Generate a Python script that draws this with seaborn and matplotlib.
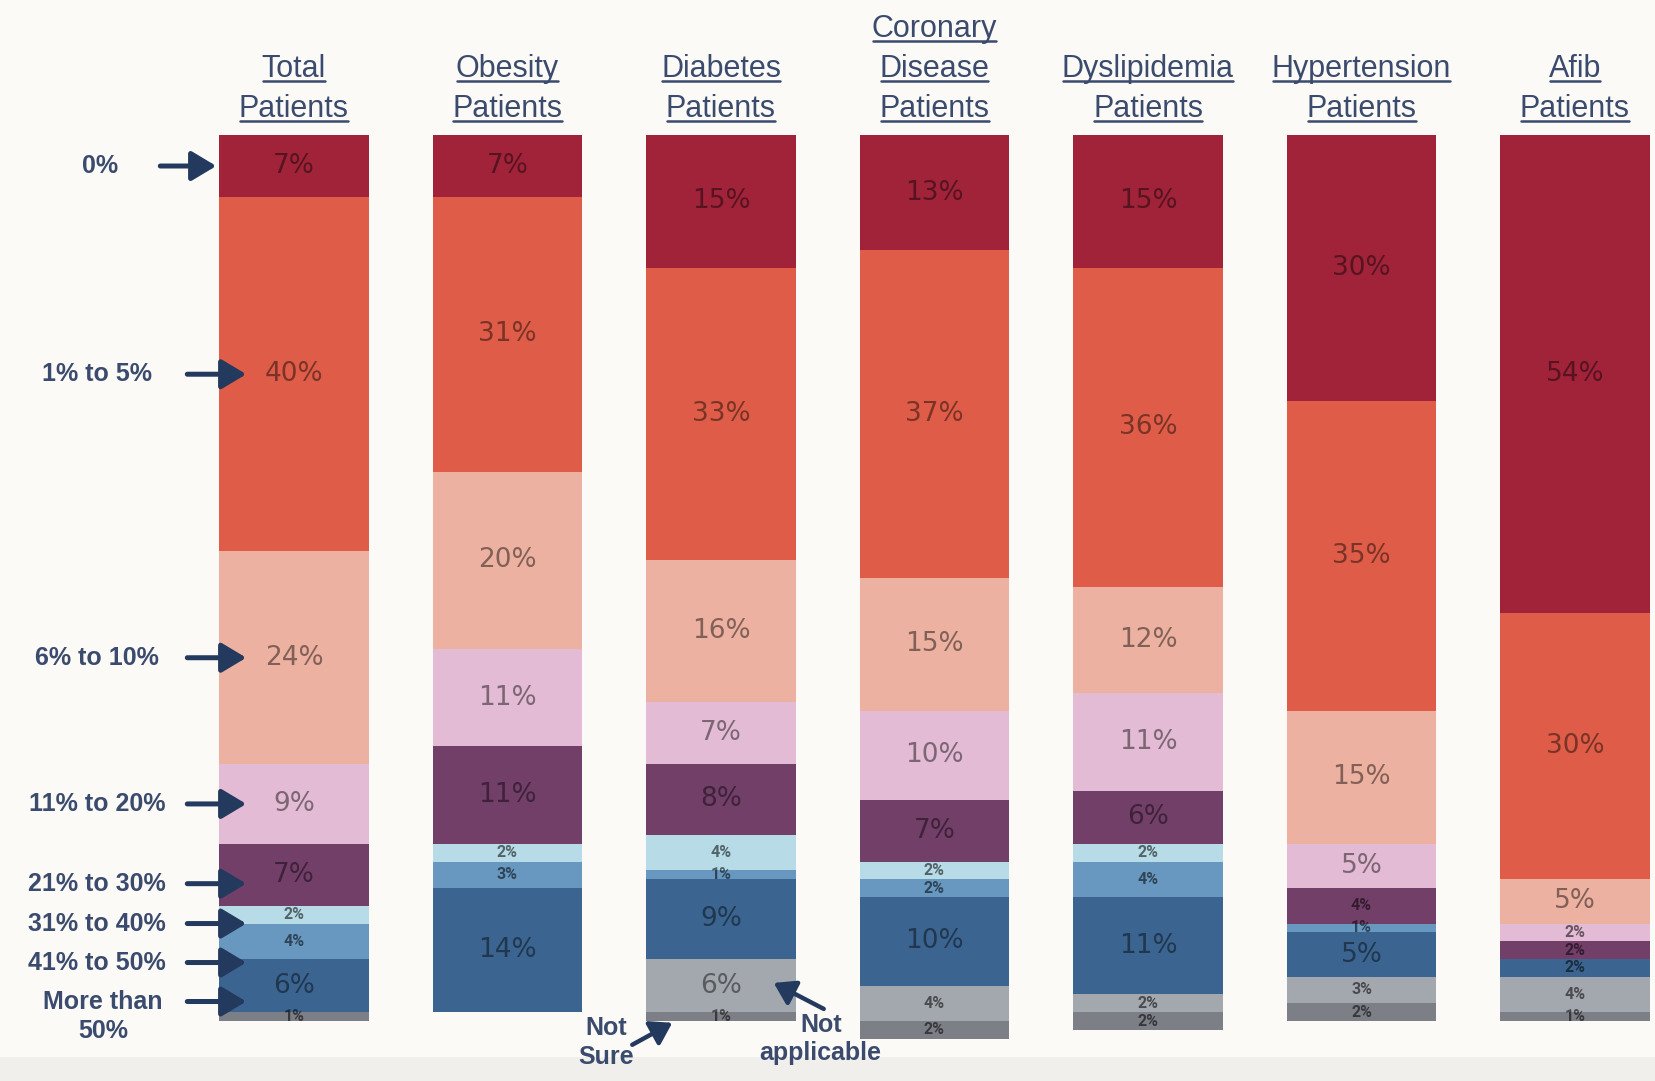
import numpy as np
import pandas as pd
import seaborn as sns
import matplotlib
matplotlib.use("Agg")
import matplotlib.pyplot as plt
import matplotlib.transforms as mtransforms
from matplotlib.lines import Line2D
from matplotlib.patches import Rectangle

# ---- data -------------------------------------------------------------
groups = ["Total\nPatients", "Obesity\nPatients", "Diabetes\nPatients",
          "Coronary\nDisease\nPatients", "Dyslipidemia\nPatients",
          "Hypertension\nPatients", "Afib\nPatients"]

band_labels = ["0%", "1% to 5%", "6% to 10%", "11% to 20%", "21% to 30%",
               "31% to 40%", "41% to 50%", "More than\n50%"]

pct_0 = [7, 7, 15, 13, 15, 30, 54]
pct_1_5 = [40, 31, 33, 37, 36, 35, 30]
pct_6_10 = [24, 20, 16, 15, 12, 15, 5]
pct_11_20 = [9, 11, 7, 10, 11, 5, 2]
pct_21_30 = [7, 11, 8, 7, 6, 4, 2]
pct_31_40 = [2, 2, 4, 2, 2, 0, 0]
pct_41_50 = [4, 3, 1, 2, 4, 1, 0]
pct_over_50 = [6, 14, 9, 10, 11, 5, 2]
pct_not_applicable = [0, 0, 6, 4, 2, 3, 4]
pct_not_sure = [1, 0, 1, 2, 2, 2, 1]

bands = ["0%", "1-5%", "6-10%", "11-20%", "21-30%", "31-40%", "41-50%",
         ">50%", "Not applicable", "Not sure"]
band_colors = ["#A0233A", "#DF5D48", "#ECB1A0", "#E3BBD4", "#723F69",
               "#B7DBE7", "#6898C0", "#3B6590", "#A3A7AE", "#7C7F86"]

df = pd.DataFrame({
    "group": groups,
    "0%": pct_0, "1-5%": pct_1_5, "6-10%": pct_6_10, "11-20%": pct_11_20,
    "21-30%": pct_21_30, "31-40%": pct_31_40, "41-50%": pct_41_50,
    ">50%": pct_over_50, "Not applicable": pct_not_applicable,
    "Not sure": pct_not_sure,
})
cum = df[bands].cumsum(axis=1)
cum["group"] = df["group"]

# ---- figure -----------------------------------------------------------
W, H, DPI = 1655, 1081, 100
BG = "#FCFAF7"
NAVY = "#3A4B6E"
ARROW = "#24395E"

sns.set_theme(style="white")
plt.rcParams["font.family"] = ["DejaVu Sans"]

fig = plt.figure(figsize=(W / DPI, H / DPI), dpi=DPI, facecolor=BG)
fig.patches.append(Rectangle((0, 0), 1, 24 / H, transform=fig.transFigure,
                             facecolor="#F1EFEC", edgecolor="none", zorder=-5))

# 100 % spans 886 px; a little head-room below for totals above 100
Y_MAX = 102
PX_PER_UNIT = 8.86
ax_h = Y_MAX * PX_PER_UNIT
ax = fig.add_axes([0, (H - 135 - ax_h) / H, 1, ax_h / H])
ax.set_facecolor(BG)

BAR_W = 0.70
SPACING = 213.5
# stacked bars: draw the running totals from the last band to the first
for band, color in reversed(list(zip(bands, band_colors))):
    sns.barplot(data=cum, x="group", y=band, order=groups, color=color,
                saturation=1, width=BAR_W, errorbar=None, ax=ax,
                edgecolor="none", linewidth=0)

x_min = -294 / SPACING
ax.set_xlim(x_min, x_min + W / SPACING)
ax.set_ylim(Y_MAX, 0)
ax.set_axis_off()

# ---- value labels inside the bars ------------------------------------
for i in range(len(groups)):
    top = 0
    for band in bands:
        v = df.loc[i, band]
        if v > 0:
            mid = top + v / 2
            if v >= 5:
                ax.text(i, mid, f"{v}%", ha="center", va="center",
                        fontsize=19, color="black", alpha=0.45,
                        family="DejaVu Sans")
            else:
                ax.text(i, mid, f"{v}%", ha="center", va="center",
                        fontsize=11.5, fontweight="bold", color="black",
                        alpha=0.55, family="Roboto")
        top += v

# ---- underlined column headers ---------------------------------------
head_tr = mtransforms.blended_transform_factory(ax.transData, fig.dpi_scale_trans)
base_in = (H - 117) / DPI
step_in = 0.40
header_texts = []
for i, g in enumerate(groups):
    lines = g.split("\n")
    n = len(lines)
    for j, line in enumerate(lines):
        y_in = base_in + (n - 1 - j) * step_in
        t = ax.text(i, y_in, line, transform=head_tr, ha="center",
                    va="baseline", fontsize=22, color=NAVY,
                    family="Liberation Sans", clip_on=False)
        header_texts.append((t, y_in))

# ---- band legend with arrows on the left ------------------------------
left_tr = mtransforms.blended_transform_factory(fig.dpi_scale_trans, ax.transData)
bar_left_px = ax.transData.transform((0 - BAR_W / 2, 0))[0]
mids = (cum.loc[0, bands[:8]] - df.loc[0, bands[:8]] / 2).tolist()
arrow_y = []
for k, m in enumerate(mids):
    y = m if k == 0 else max(m, arrow_y[-1] + 3.4)
    if k >= 4:
        y += 1.0
    arrow_y.append(y)

arrow_kw = dict(arrowstyle="-|>,head_length=0.75,head_width=0.45",
                lw=3.6, color=ARROW, shrinkA=0, shrinkB=0,
                mutation_scale=20)
for k, (lab, y) in enumerate(zip(band_labels, arrow_y)):
    y_px = ax.transData.transform((0, y))[1]
    if k == 0:
        tail, tip = bar_left_px - 59, bar_left_px - 3
    else:
        tail, tip = bar_left_px - 32, bar_left_px + 27
    ax.annotate("", xy=(tip, y_px), xycoords="figure pixels",
                xytext=(tail, y_px), textcoords="figure pixels",
                arrowprops=arrow_kw, annotation_clip=False)
    if "\n" in lab:
        tr = mtransforms.offset_copy(left_tr, fig=fig, y=-15, units="dots")
        ax.text(1.03, y, lab, transform=tr, ha="center", va="center",
                fontsize=18, fontweight="bold", color=NAVY,
                family="Liberation Sans", linespacing=1.25, clip_on=False)
    else:
        ax.text(0.97 if k else 1.0, y, lab, transform=left_tr, ha="center",
                va="center", fontsize=18, fontweight="bold", color=NAVY,
                family="Liberation Sans", clip_on=False)

# ---- "Not sure" / "Not applicable" callouts on the Diabetes bar -------
d = groups.index("Diabetes\nPatients")
unit = 1 / SPACING
sure_tip = (d - BAR_W / 2 + 26 * unit, 100.2)
na_top = cum.loc[d, ">50%"]
na_tip = (d + BAR_W / 2 - 22 * unit, na_top + df.loc[d, "Not applicable"] * 0.45)
small_arrow = dict(arrowstyle="-|>,head_length=0.7,head_width=0.45",
                   lw=3.2, color=ARROW, shrinkA=0, shrinkB=0,
                   mutation_scale=18)
ax.annotate("", xy=sure_tip, xycoords="data", xytext=(-40, -22),
            textcoords="offset pixels", arrowprops=small_arrow,
            annotation_clip=False)
ax.annotate("Not\nSure", xy=sure_tip, xycoords="data", xytext=(-66, -20),
            textcoords="offset pixels", ha="center", va="center",
            fontsize=18, fontweight="bold", color=NAVY,
            family="Liberation Sans", linespacing=1.25,
            annotation_clip=False)
ax.annotate("", xy=na_tip, xycoords="data", xytext=(50, -26),
            textcoords="offset pixels", arrowprops=small_arrow,
            annotation_clip=False)
ax.annotate("Not\napplicable", xy=na_tip, xycoords="data", xytext=(47, -56),
            textcoords="offset pixels", ha="center", va="center",
            fontsize=18, fontweight="bold", color=NAVY,
            family="Liberation Sans", linespacing=1.25,
            annotation_clip=False)

# underline every header line along its own width
fig.canvas.draw()
renderer = fig.canvas.get_renderer()
for t, y_in in header_texts:
    bb = t.get_window_extent(renderer)
    yb = y_in * DPI - 4
    fig.add_artist(Line2D([bb.x0 + 1, bb.x1 - 1], [yb, yb], lw=1.8,
                          color=NAVY, transform=mtransforms.IdentityTransform()))

fig.savefig("out.png", dpi=DPI, facecolor=BG)
